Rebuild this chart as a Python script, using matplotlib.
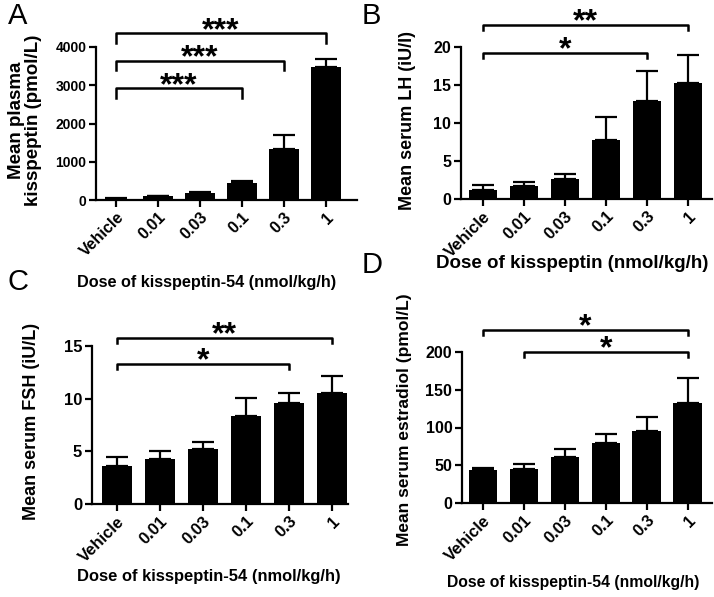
import numpy as np
import matplotlib
matplotlib.use('Agg')
import matplotlib.pyplot as plt

plt.rcParams['font.family'] = ['Liberation Sans', 'DejaVu Sans']

doses = ['Vehicle', '0.01', '0.03', '0.1', '0.3', '1']

kiss_mean = [30, 95, 180, 450, 1340, 3480]
kiss_err = [10, 15, 40, 40, 370, 200]
lh_mean = [1.2, 1.7, 2.6, 7.8, 12.9, 15.3]
lh_err = [0.6, 0.6, 0.7, 3.0, 3.9, 3.6]
fsh_mean = [3.6, 4.3, 5.2, 8.4, 9.6, 10.5]
fsh_err = [0.9, 0.7, 0.65, 1.65, 0.9, 1.65]
e2_mean = [44, 45, 61, 79, 96, 133]
e2_err = [2, 7, 11, 12, 18, 33]

# significance brackets: (from, to, label)
kiss_sig = [(0, 3, '***'), (0, 4, '***'), (0, 5, '***')]
lh_sig = [(0, 4, '*'), (0, 5, '**')]
fsh_sig = [(0, 4, '*'), (0, 5, '**')]
e2_sig = [(1, 5, '*'), (0, 5, '*')]

W, H = 714, 597
fig = plt.figure(figsize=(W/100, H/100), dpi=100)


def px_axes(l, t, r, b):
    return fig.add_axes([l/W, 1-b/H, (r-l)/W, (b-t)/H])


def panel(rect, mean, err, ymax, yticks, xlim, sig, levels, tip, ysize, xsize):
    ax = px_axes(*rect)
    x = np.arange(len(doses))
    ax.bar(x, mean, width=0.7, color='black', zorder=2)
    ax.errorbar(x, mean, yerr=[np.zeros(len(err)), err], fmt='none',
                ecolor='black', elinewidth=1.6, capsize=8, capthick=1.6, zorder=1)
    ax.set_xlim(*xlim)
    ax.set_ylim(0, ymax)
    ax.set_yticks(yticks)
    ax.set_xticks(x)
    ax.set_xticklabels(doses, rotation=45, ha='right', rotation_mode='anchor')
    for s in ['top', 'right']:
        ax.spines[s].set_visible(False)
    for s in ['left', 'bottom']:
        ax.spines[s].set_linewidth(1.6)
    ax.tick_params(width=1.6, length=5, pad=2)
    ax.tick_params(axis='y', labelsize=ysize)
    ax.tick_params(axis='x', labelsize=xsize)
    for lab in ax.get_xticklabels() + ax.get_yticklabels():
        lab.set_fontweight('bold')
    for (a, b, txt), yl in zip(sig, levels):
        ax.plot([a, a, b, b], [yl-tip, yl, yl, yl-tip], color='black', lw=1.8,
                clip_on=False)
        ax.annotate(txt, ((a+b)/2, yl), xytext=(0, -4), textcoords='offset points',
                    ha='center', va='baseline', fontsize=23, fontweight='bold',
                    annotation_clip=False)
    return ax


panel((96, 47, 357, 200), kiss_mean, kiss_err, 4000, [0, 1000, 2000, 3000, 4000],
      (-0.48, 5.74), kiss_sig, [2920, 3640, 4360], 250, 10, 11.5)
panel((461, 47, 712, 199), lh_mean, lh_err, 20, [0, 5, 10, 15, 20],
      (-0.54, 5.59), lh_sig, [19.2, 22.9], 0.65, 11.5, 12)
panel((92, 346, 348, 504), fsh_mean, fsh_err, 15, [0, 5, 10, 15],
      (-0.58, 5.37), fsh_sig, [13.3, 15.8], 0.5, 12, 12)
panel((462, 352, 712, 503), e2_mean, e2_err, 200, [0, 50, 100, 150, 200],
      (-0.51, 5.59), e2_sig, [200, 229.6], 7, 11.5, 12)


def ftext(x, y, s, **kw):
    fig.text(x/W, 1-y/H, s, ha='center', va='center', **kw)


# panel letters
for s, x, y in [('A', 18, 16), ('B', 371, 16), ('C', 18, 282), ('D', 372, 265)]:
    ftext(x, y, s, fontsize=21)

# y labels
ftext(25, 120, 'Mean plasma\nkisspeptin (pmol/L)', fontsize=13.5, fontweight='bold',
      rotation=90, linespacing=1.0)
ftext(407, 120, 'Mean serum LH (iU/l)', fontsize=13, fontweight='bold', rotation=90)
ftext(32, 421, 'Mean serum FSH (iU/L)', fontsize=13, fontweight='bold', rotation=90)
ftext(405, 420, 'Mean serum estradiol (pmol/L)', fontsize=12.5, fontweight='bold',
      rotation=90)

# x labels
ftext(207, 283, 'Dose of kisspeptin-54 (nmol/kg/h)', fontsize=11.7, fontweight='bold')
ftext(572, 264, 'Dose of kisspeptin (nmol/kg/h)', fontsize=13.5, fontweight='bold')
ftext(209, 577, 'Dose of kisspeptin-54 (nmol/kg/h)', fontsize=11.9, fontweight='bold')
ftext(573, 583, 'Dose of kisspeptin-54 (nmol/kg/h)', fontsize=11.3, fontweight='bold')

fig.savefig('out.png', dpi=100)
